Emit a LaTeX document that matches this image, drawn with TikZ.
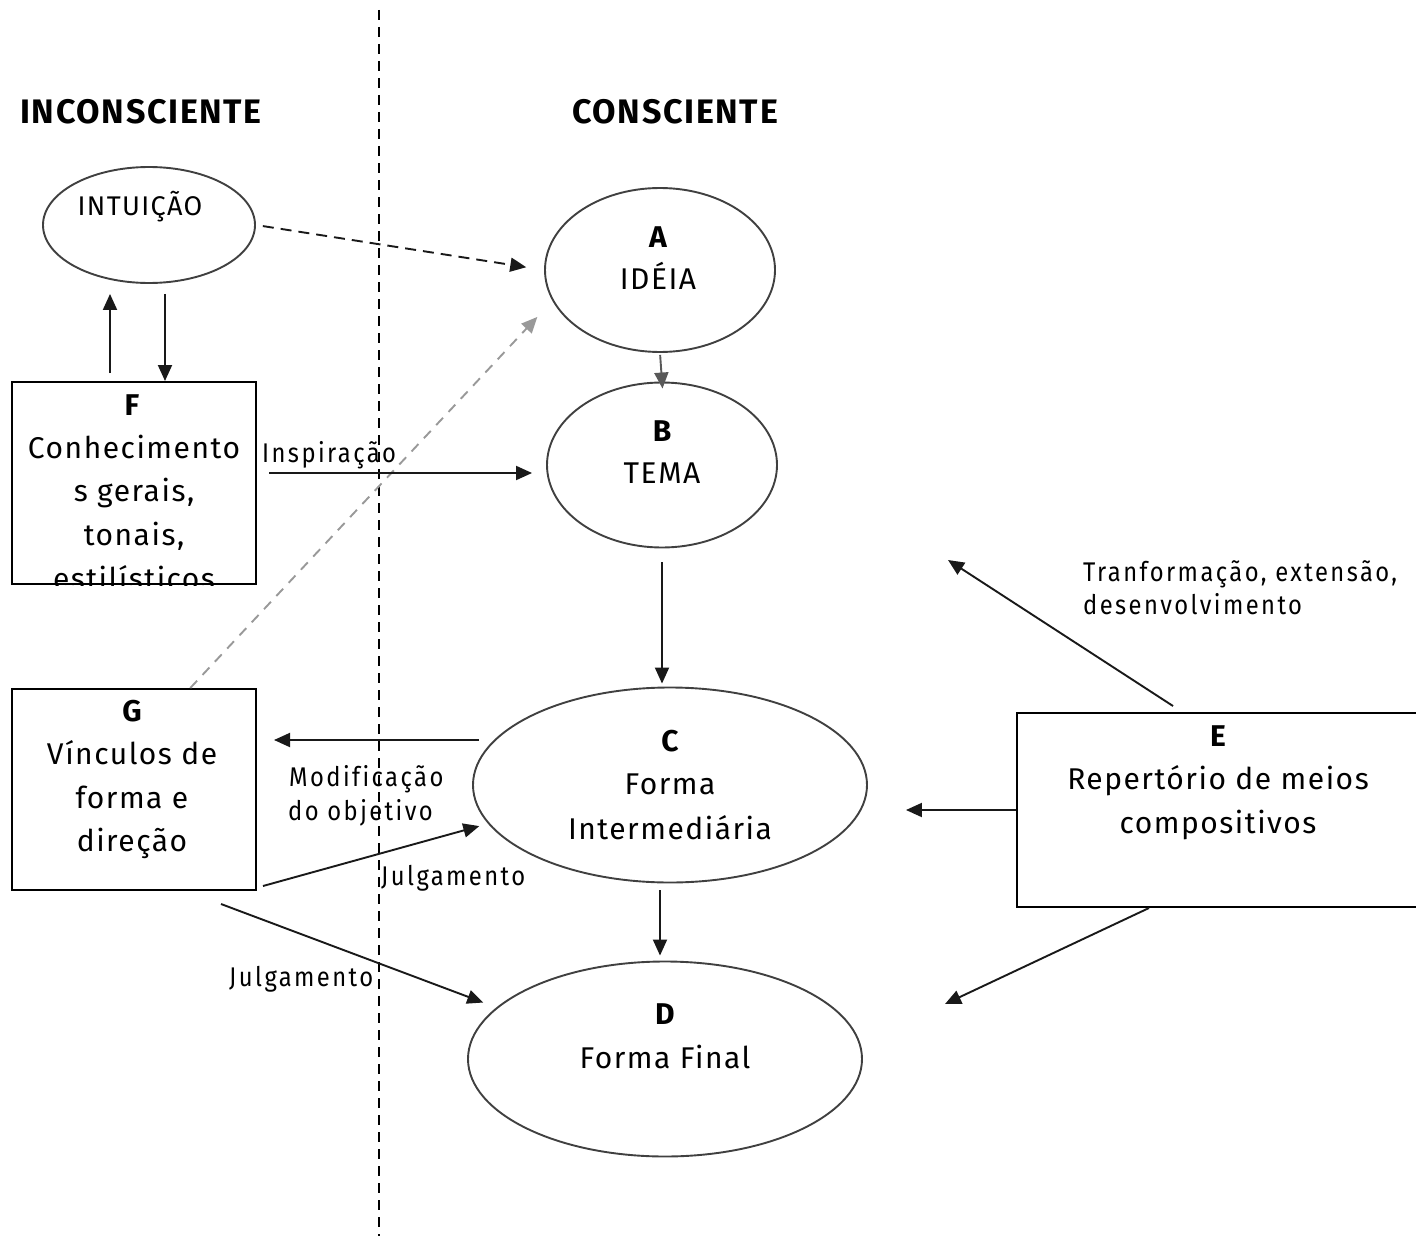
\documentclass[tikz,border=0pt]{standalone}
\usepackage{fontspec}
\setmainfont{Fira Sans}[LetterSpace=5,Ligatures=CommonOff]
\newfontfamily\lblfont[FakeStretch=0.88,LetterSpace=9,Ligatures=CommonOff]{Fira Sans}
\newfontfamily\hdfont[LetterSpace=5]{Fira Sans}
\usetikzlibrary{arrows.meta,shapes.geometric}
\begin{document}
\begin{tikzpicture}[x=1pt,y=-1pt,
  ell/.style={draw=black!75, line width=1.9pt, ellipse, inner sep=0pt},
  box/.style={draw=black, line width=2pt, rectangle, inner sep=0pt},
  txt/.style={anchor=base, inner sep=0pt, font=\fontsize{30}{30}\selectfont},
  ttl/.style={anchor=base, inner sep=0pt, font=\fontsize{30}{30}\selectfont\bfseries},
  hd/.style={anchor=base, inner sep=0pt, font=\fontsize{34}{34}\selectfont\hdfont\bfseries},
  lbl/.style={anchor=base west, inner sep=0pt, font=\fontsize{27}{27}\selectfont\lblfont},
  arr/.style={-{Triangle[length=16pt,width=14pt]}, line width=1.9pt, draw=black!90},
  divider/.style={line width=1.8pt, dash pattern=on 10pt off 7pt},
]
\useasboundingbox (0,0) rectangle (1416,1236);

% divider
\coordinate (top) at (379,10);
\coordinate (bot) at (379,1236);
\draw[divider] (top) -- (bot);

% headings
\node[hd] (hin) at (141,124) {INCONSCIENTE};
\node[hd] (hco) at (675,124) {CONSCIENTE};

% ellipses
\node[ell, minimum width=212pt, minimum height=116pt] (I) at (149,225) {};
\node[ell, minimum width=230pt, minimum height=164pt] (A) at (660,270) {};
\node[ell, minimum width=230pt, minimum height=165pt] (B) at (662,465) {};
\node[ell, minimum width=394pt, minimum height=195pt] (C) at (670,785) {};
\node[ell, minimum width=394pt, minimum height=195pt] (D) at (665,1059) {};

% boxes
\node[box, minimum width=244pt, minimum height=202pt] (F) at (134,483) {};
\node[box, minimum width=244pt, minimum height=201pt] (G) at (134,789.5) {};
\node[box, minimum width=404pt, minimum height=194pt] (E) at (1219,810) {};

% ellipse texts
\node[txt, font=\fontsize{27}{27}\selectfont] (tI) at (140,215) {INTUIÇÃO};
\node[ttl] (tA1) at (658,247) {A};
\node[txt] (tA2) at (658,289) {IDÉIA};
\node[ttl] (tB1) at (662,441) {B};
\node[txt] (tB2) at (662,483) {TEMA};
\node[ttl] (tC1) at (670,751) {C};
\node[txt] (tC2) at (670,794) {Forma};
\node[txt] (tC3) at (670,839) {Intermediária};
\node[ttl] (tD1) at (665,1024) {D};
\node[txt] (tD2) at (665,1068) {Forma Final};

% box texts
\node[ttl] (tF1) at (132,415) {F};
\node[txt] (tF2) at (134,458) {Conhecimento};
\node[txt] (tF3) at (134,501) {s gerais,};
\node[txt] (tF4) at (134,545) {tonais,};
\begin{scope}
  \clip (F.south west) rectangle (F.north east);
  \node[txt] (tF5) at (134,589) {estilísticos};
\end{scope}
\node[ttl] (tG1) at (132,721) {G};
\node[txt] (tG2) at (132,764) {Vínculos de};
\node[txt] (tG3) at (132,808) {forma e};
\node[txt] (tG4) at (132,851) {direção};
\node[ttl] (tE1) at (1218,746) {E};
\node[txt] (tE2) at (1218,789) {Repertório de meios};
\node[txt] (tE3) at (1218,833) {compositivos};

% labels
\node[lbl] (lInsp) at (262,462) {Inspiração};
\node[lbl] (lMod1) at (289,786) {Modificação};
\node[lbl] (lMod2) at (288,820) {do objetivo};
\node[lbl] (lJul1) at (381,885) {Julgamento};
\node[lbl] (lJul2) at (229,986) {Julgamento};
\node[lbl] (lTr1) at (1083,581) {Tranformação, extensão,};
\node[lbl] (lTr2) at (1083,614) {desenvolvimento};

% connectors
\coordinate (fup) at ([xshift=-24pt]F.north);
\draw[arr, shorten <=8pt, shorten >=10pt] (fup) -- (fup |- I.south);
\coordinate (fdn) at ([xshift=31pt]F.north);
\draw[arr, shorten <=10pt] (fdn |- I.south) -- (fdn);
\draw[arr, dash pattern=on 11pt off 7pt, shorten <=7pt, shorten >=18pt] (I.east) -- (A.west);
\draw[arr, draw=black!40, dash pattern=on 10pt off 8pt, shorten >=22pt] (G.61) -- (A.196);
\draw[arr, draw=black!65, shorten <=2pt, shorten >=-7pt] (A.south) -- (B.north);
\coordinate (f1) at ([yshift=10pt]F.east);
\draw[arr, shorten <=12pt, shorten >=14pt] (f1) -- (f1 -| B.west);
\draw[arr, shorten <=14pt, shorten >=3pt] (B.south) -- (B.south |- C.north);
\coordinate (c1) at ([yshift=45pt]C.west);
\draw[arr, shorten <=-7pt, shorten >=17pt] (c1) -- (c1 -| G.east);
\coordinate (g1) at ([xshift=6pt,yshift=5pt]G.south east);
\draw[arr, shorten >=9pt] (g1) -- (C.192);
\coordinate (g2) at ([xshift=210pt,yshift=-13pt]G.south west);
\draw[arr, shorten >=14pt] (g2) -- (D.163);
\coordinate (c2) at ([xshift=-10pt]C.south);
\draw[arr, shorten <=7pt, shorten >=5pt] (c2) -- (c2 |- D.north);
\draw[arr, shorten >=38pt] (E.west) -- (E.west -| C.east);
\coordinate (e1) at ([xshift=-70pt]E.south);
\coordinate (ed) at (945,1004);
\draw[arr] (e1) -- (ed);
\coordinate (e2) at ([xshift=-46pt,yshift=6pt]E.north);
\coordinate (eu) at (948,560);
\draw[arr] (e2) -- (eu);
\end{tikzpicture}
\end{document}
